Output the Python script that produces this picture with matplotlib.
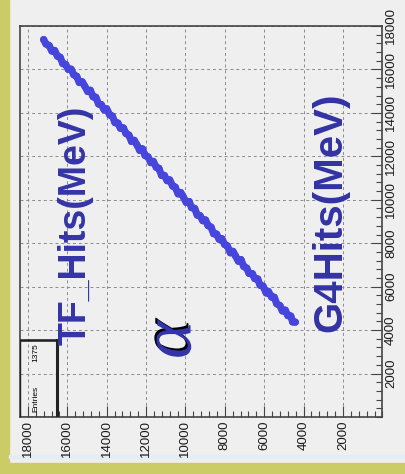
import matplotlib
matplotlib.use("Agg")
import matplotlib.pyplot as plt
import matplotlib.patheffects as pe
from matplotlib.patches import Rectangle
from matplotlib.ticker import MultipleLocator

# G4Hits (horizontal, drawn right-to-left) vs TF_Hits (vertical), in MeV
g4_mev = [4420, 4560, 4650, 4800, 4930, 5080, 5200, 5370, 5490, 5620, 5790, 5900,
          6060, 6210, 6330, 6480, 6600, 6770, 6890, 7040, 7180, 7310, 7460, 7590,
          7720, 7880, 8010, 8150, 8290, 8420, 8570, 8700, 8850, 8980, 9120, 9260,
          9400, 9530, 9690, 9810, 9960, 10100, 10240, 10370, 10520, 10650, 10800,
          10930, 11070, 11210, 11350, 11480, 11630, 11760, 11900, 12050, 12180,
          12320, 12460, 12600, 12740, 12870, 13020, 13150, 13300, 13430, 13580,
          13710, 13850, 14000, 14130, 14270, 14410, 14550, 14690, 14830, 14960,
          15110, 15240, 15390, 15520, 15670, 15800, 15950, 16080, 16230, 16360,
          16500, 16640, 16780, 16920, 17080, 17200]
tf_mev = [4368, 4376, 4648, 4666, 4919, 4882, 5124, 5217, 5515, 5517, 5781, 5708,
          6026, 6064, 6357, 6370, 6597, 6610, 6858, 6926, 7244, 7171, 7419, 7627,
          7559, 7888, 7940, 8208, 8181, 8423, 8436, 8744, 8807, 9070, 9037, 9270,
          9293, 9601, 9639, 9921, 9879, 10117, 10335, 10272, 10585, 10628, 10916,
          10879, 11121, 11119, 11452, 11490, 11768, 11710, 11978, 12036, 12344,
          12271, 12524, 12737, 12685, 12977, 13050, 13308, 13291, 13534, 13552,
          13854, 13912, 14190, 14143, 14380, 14408, 14721, 14739, 15042, 14984,
          15227, 15430, 15398, 15685, 15753, 16011, 16004, 16232, 16270, 16562,
          16610, 16873, 16846, 17098, 17172, 17374]
x_ticks = [2000, 4000, 6000, 8000, 10000, 12000, 14000, 16000, 18000]
y_ticks = [2000, 4000, 6000, 8000, 10000, 12000, 14000, 16000, 18000]
n_entries = 1375

W, H = 405, 474
fig = plt.figure(figsize=(W / 100, H / 100), dpi=100)
fig.patch.set_facecolor("#efefef")

# olive frame strips (left and bottom) + faint line above the bottom strip
fig.patches.append(Rectangle((0, 0), 9 / W, 1, transform=fig.transFigure,
                             color="#cccc66", zorder=-2))
fig.patches.append(Rectangle((0, 0), 1, 11 / H, transform=fig.transFigure,
                             color="#cccc66", zorder=-2))
fig.patches.append(Rectangle((9 / W, 16 / H), 1, 3 / H, transform=fig.transFigure,
                             color="#e4ecf6", zorder=-2))

ax = fig.add_axes([20 / W, 57 / H, 362.4 / W, 391 / H])
ax.set_facecolor("#efefef")
ax.plot(g4_mev, tf_mev, color="#4646dc", lw=5.2, solid_capstyle="round", zorder=3)
ax.scatter(g4_mev, tf_mev, s=26, color="#4646dc", edgecolors="none", zorder=3)

ax.set_xlim(18400, 0)
ax.set_ylim(0, 18000)
ax.yaxis.tick_right()
ax.set_xticks(x_ticks)
ax.set_xticklabels([str(v) for v in x_ticks], rotation=90, fontsize=9.5,
                   family="Liberation Sans", color="#1a1a1a")
ax.set_yticks(y_ticks)
ax.set_yticklabels([str(v) for v in y_ticks], rotation=90, fontsize=9.5,
                   family="Liberation Sans", color="#1a1a1a", va="center")
ax.xaxis.set_minor_locator(MultipleLocator(400))
ax.yaxis.set_minor_locator(MultipleLocator(400))
ax.tick_params(which="major", direction="in", length=8, width=0.8, color="#444444")
ax.tick_params(which="minor", direction="in", length=4, width=0.8, color="#444444")
ax.tick_params(axis="x", pad=2.5)
ax.tick_params(axis="y", pad=2)
for s in ax.spines.values():
    s.set_color("#444444")
    s.set_linewidth(1.2)
ax.grid(True, which="major", linestyle=(0, (3, 3)), color="#8a8a8a", linewidth=0.7)

# stats box (rotated)
ax.add_patch(Rectangle((0, 0), 0.102, 0.197, transform=ax.transAxes, fill=False,
                       edgecolor="#222222", linewidth=1.0, zorder=4))
ax.plot([0, 0.102], [0.197, 0.197], transform=ax.transAxes, color="#222222", lw=1.8, zorder=4)
ax.plot([0.102, 0.102], [0, 0.197], transform=ax.transAxes, color="#222222", lw=2.2, zorder=4)
ax.text(0.043, 0.012, "Entries", transform=ax.transAxes, rotation=90, fontsize=6,
        ha="center", va="bottom", family="Liberation Sans", zorder=5)
ax.text(0.043, 0.188, str(n_entries), transform=ax.transAxes, rotation=90, fontsize=6,
        ha="center", va="top", family="Liberation Sans", zorder=5)

# rotated annotations
fig.text(76 / W, 1 - 225 / H, "TF_Hits(MeV)", rotation=90, fontsize=27, fontweight="bold",
         family="Liberation Sans", color="#3434a8", ha="center", va="center")
fig.text(330 / W, 1 - 212 / H, "G4Hits(MeV)", rotation=90, fontsize=29, fontweight="bold",
         family="Liberation Sans", color="#3232a4", ha="center", va="center")
fig.text(173 / W, 1 - 340 / H, "α", rotation=90, fontsize=52, style="italic",
         family="Liberation Serif", color="#3333aa", ha="center", va="center",
         path_effects=[pe.withSimplePatchShadow(offset=(-1.5, 1.5), shadow_rgbFace="black", alpha=1.0)])

plt.savefig("out.png", dpi=100, facecolor=fig.get_facecolor())
plt.close()
